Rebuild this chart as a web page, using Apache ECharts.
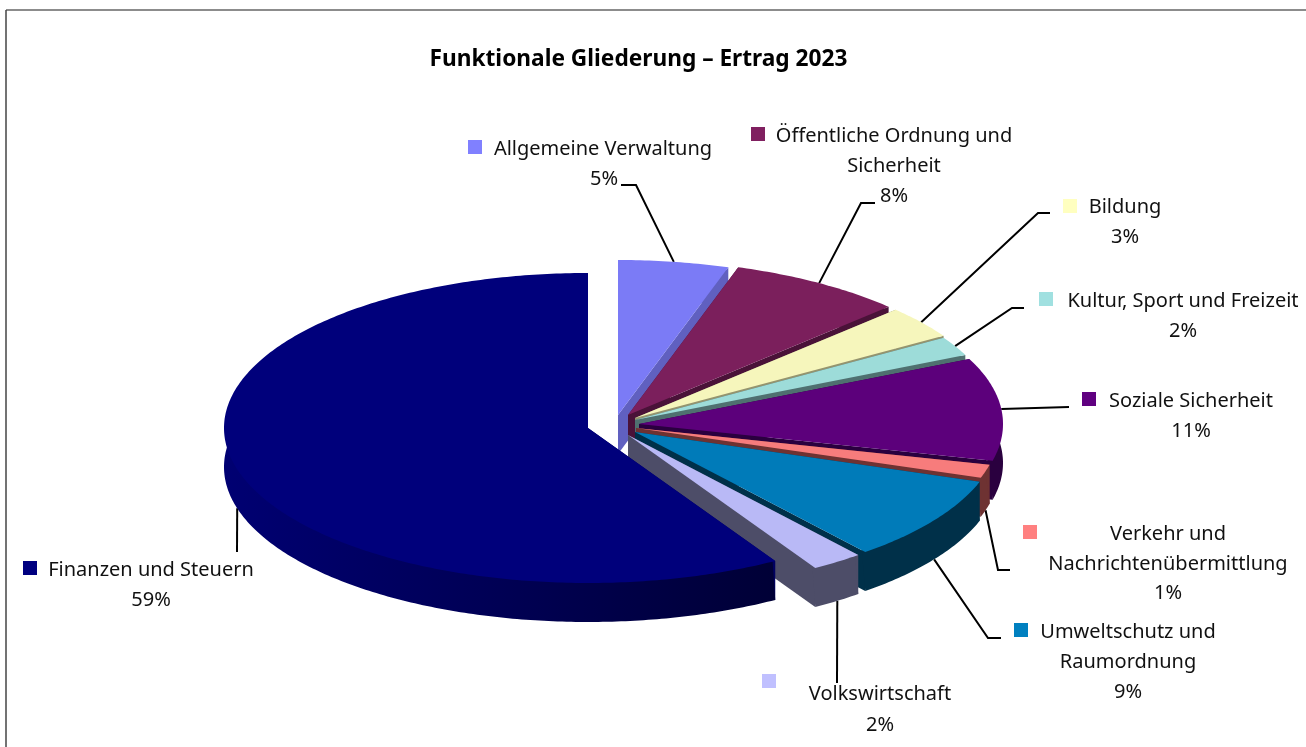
<!DOCTYPE html>
<html>
<head>
<meta charset="utf-8">
<title>Funktionale Gliederung</title>
<script src="https://cdn.jsdelivr.net/npm/echarts@6/dist/echarts.min.js"></script>
<style>
  html, body { margin: 0; padding: 0; background: #fff; }
  #chart { width: 1306px; height: 747px; }
</style>
</head>
<body>
<div id="chart"></div>
<script>
// data, clockwise from 12 o'clock
const categories = [
  'Allgemeine Verwaltung',
  'Öffentliche Ordnung und\nSicherheit',
  'Bildung',
  'Kultur, Sport und Freizeit',
  'Soziale Sicherheit',
  'Verkehr und\nNachrichtenübermittlung',
  'Umweltschutz und\nRaumordnung',
  'Volkswirtschaft',
  'Finanzen und Steuern'
]
const values = [4.9, 7.8, 3.4, 2.0, 10.7, 1.4, 8.9, 2.3, 58.6]

// colours
const legendColors = ['#8080FF', '#802060', '#FFFFC0', '#A0E0E0', '#600080', '#FF8080', '#0080C0', '#C0C0FF', '#000080']
const topColors = ['#7B7BF6', '#7B1F5C', '#F6F6BC', '#9DDCD9', '#5C007B', '#F77C7C', '#007BB9', '#B9B9F6', '#00007B']
const wallColors = ['#6060C0', '#4A1238', '#94946F', '#4F7070', '#2A003F', '#6E3232', '#003049', '#4D4D68', '#000060']

// pie geometry
const center = [630, 425]
const radiusX = 364
const radiusY = 155
const depth = 39
const explode = [[-12, -10], [-2, -10], [5, -7], [5, -5], [9, -1], [6, 3], [5, 7], [-2, 10], [-42, 3]]

// label layout: marker top-left, text centre and first line y, leader bend and end
const markers = [[468, 140], [751, 127], [1063, 199], [1039, 292], [1082, 392], [1023, 525], [1014, 623], [762, 674], [23, 561]]
const textPos = [[603, 149], [894, 136], [1125, 207], [1183, 301], [1191, 401], [1168, 534], [1128, 632], [880, 694], [151, 570]]
const percentPos = [[604, 179], [894, 196], [1125, 237], [1183, 331], [1191, 431], [1168, 593], [1128, 692], [880, 725], [151, 600]]
const leaders = [
  [[636, 185], [621, 185]],
  [[861, 203], [875, 203]],
  [[1038, 213], [1050, 213]],
  [[1012, 308], [1024, 308]],
  [[1069, 407]],
  [[998, 570], [1010, 570]],
  [[988, 638], [1001, 638]],
  [[837, 683]],
  [[237, 552]]
]

const fontFamily = '"Noto Sans", sans-serif'
const total = values.reduce((a, b) => a + b, 0)

function sliceAngles(i) {
  let start = 0
  for (let k = 0; k < i; k++) start += values[k]
  const a0 = (start / total) * Math.PI * 2
  const a1 = ((start + values[i]) / total) * Math.PI * 2
  return [a0, a1]
}

function apex(i) {
  return [center[0] + explode[i][0], center[1] + explode[i][1]]
}

function rimPoint(i, t, dy) {
  const c = apex(i)
  return [c[0] + radiusX * Math.sin(t), c[1] - radiusY * Math.cos(t) + (dy || 0)]
}

function renderSlice(params, api) {
  const i = api.value(0)
  const [a0, a1] = sliceAngles(i)
  const c = apex(i)
  const steps = Math.max(4, Math.ceil((a1 - a0) * 80))
  const rim = []
  for (let s = 0; s <= steps; s++) {
    rim.push(rimPoint(i, a0 + ((a1 - a0) * s) / steps))
  }
  const rimLow = rim.map((p) => [p[0], p[1] + depth])
  // wall starts a little inside the top face so no light seam shows at the edge
  const rimInner = rim.map((p) => [c[0] + (p[0] - c[0]) * 0.985, c[1] + (p[1] - c[1]) * 0.985])
  const first = rim[0]
  const last = rim[rim.length - 1]
  const base = [c[0], c[1] + depth]

  let wallFill = wallColors[i]
  if (i === categories.length - 1) {
    wallFill = new echarts.graphic.LinearGradient(0, 0, 1, 0, [
      { offset: 0, color: '#000072' },
      { offset: 1, color: '#000036' }
    ])
  }
  const poly = (points, fill) => ({ type: 'polygon', shape: { points }, style: { fill } })
  return {
    type: 'group',
    children: [
      poly([c, first, [first[0], first[1] + depth], base], wallColors[i]),
      poly([c, last, [last[0], last[1] + depth], base], wallColors[i]),
      poly(rimInner.concat(rimLow.slice().reverse()), wallFill),
      poly([c].concat(rim), topColors[i])
    ]
  }
}

function renderLabel(params, api) {
  const i = api.value(0)
  const [a0, a1] = sliceAngles(i)
  const mid = (a0 + a1) / 2
  // leaders leave the rim at the middle of the slice, lower edge for the front half
  const start = rimPoint(i, mid, Math.cos(mid) < -0.05 ? depth : 0)
  const lines = categories[i].split('\n')
  const children = [
    {
      type: 'polyline',
      shape: { points: [start].concat(leaders[i]) },
      style: { stroke: '#000', lineWidth: 2, fill: null }
    },
    {
      type: 'rect',
      shape: { x: markers[i][0], y: markers[i][1], width: 14, height: 14 },
      style: { fill: legendColors[i] }
    }
  ]
  lines.forEach((line, n) => {
    children.push({
      type: 'text',
      style: {
        text: line,
        x: textPos[i][0],
        y: textPos[i][1] + n * 30,
        align: 'center',
        verticalAlign: 'middle',
        fill: '#111',
        font: '20px ' + fontFamily
      }
    })
  })
  children.push({
    type: 'text',
    style: {
      text: Math.round(values[i]) + '%',
      x: percentPos[i][0],
      y: percentPos[i][1],
      align: 'center',
      verticalAlign: 'middle',
      fill: '#111',
      font: '20px ' + fontFamily
    }
  })
  return { type: 'group', children }
}

const chart = echarts.init(document.getElementById('chart'))
const rows = values.map((v, i) => [i, v])

chart.setOption({
  animation: false,
  backgroundColor: '#fff',
  title: {
    text: 'Funktionale Gliederung – Ertrag 2023',
    left: 633.5,
    top: 43,
    textAlign: 'center',
    textStyle: { fontFamily: '"Noto Sans", sans-serif', fontSize: 22.7, fontWeight: 'bold', color: '#000' }
  },
  graphic: [
    { type: 'line', shape: { x1: 6, y1: 10, x2: 1306, y2: 10 }, style: { stroke: '#666', lineWidth: 1.5 } },
    { type: 'line', shape: { x1: 6, y1: 10, x2: 6, y2: 747 }, style: { stroke: '#444', lineWidth: 1.5 } }
  ],
  series: [
    { type: 'custom', name: 'Ertrag', coordinateSystem: 'none', renderItem: renderSlice, data: rows, silent: true, z: 2 },
    { type: 'custom', name: 'Beschriftung', coordinateSystem: 'none', renderItem: renderLabel, data: rows, silent: true, z: 1 }
  ]
})
</script>
</body>
</html>
